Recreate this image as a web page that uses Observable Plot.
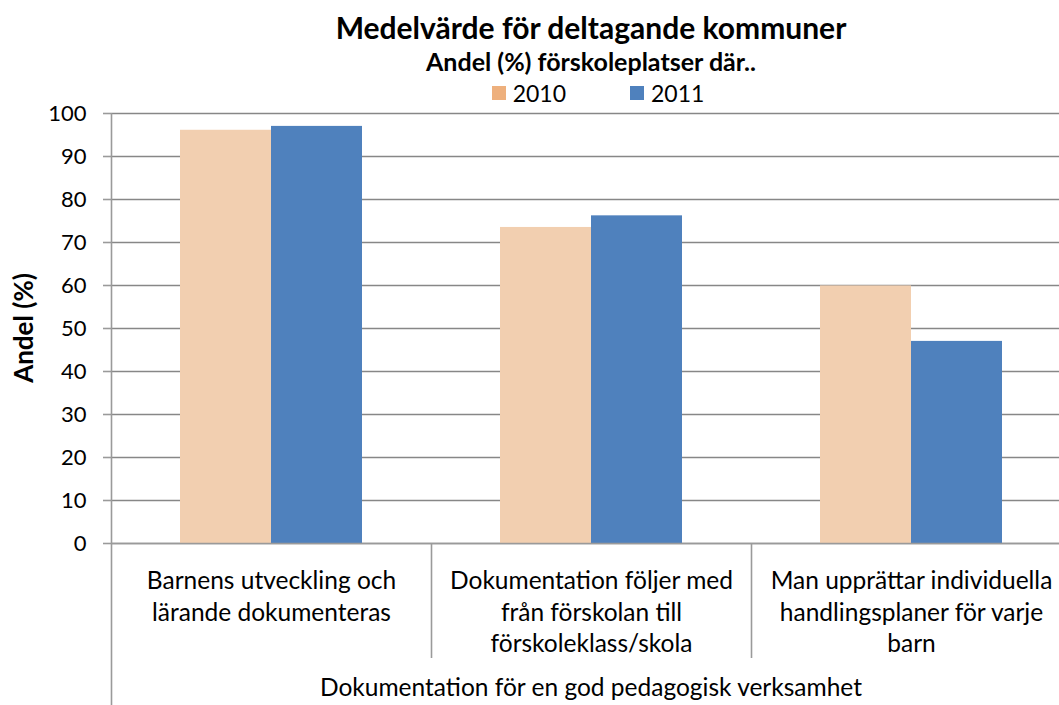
<!DOCTYPE html>
<html>
<head>
<meta charset="utf-8">
<script src="https://cdn.jsdelivr.net/npm/d3@7"></script>
<script src="https://cdn.jsdelivr.net/npm/@observablehq/plot@0.6"></script>
<style>
  html, body { margin: 0; padding: 0; background: #fff; overflow: hidden; }
  #wrap { position: relative; width: 1059px; height: 705px; overflow: hidden; font-family: Lato, "Open Sans", sans-serif; color: #000; }
  #header { position: relative; width: 1059px; height: 105px; }
  .ctr { position: absolute; left: 111px; width: 960px; text-align: center; line-height: 1; white-space: nowrap; }
  #title { top: 12px; font-size: 30px; font-weight: bold; }
  #subtitle { top: 49px; font-size: 25px; font-weight: bold; }
  #legend { top: 80px; font-size: 23px; transform: translateX(7px); }
  .item { display: inline-flex; align-items: center; margin: 0 32px; }
  .sw { display: inline-block; width: 14px; height: 14px; margin-right: 7px; }
  #chart { position: absolute; left: 0; top: 105px; width: 1071px; }
  #chart svg { max-width: none !important; }
</style>
</head>
<body>
<div id="wrap">
  <div id="header">
    <div id="title" class="ctr"></div>
    <div id="subtitle" class="ctr"></div>
    <div id="legend" class="ctr"></div>
  </div>
  <div id="chart"></div>
</div>
<script>
// ---- data ----
const titleText = "Medelvärde för deltagande kommuner";
const subtitleText = "Andel (%) förskoleplatser där..";
const yLabel = "Andel (%)";
const groupLabel = "Dokumentation för en god pedagogisk verksamhet";
const categories = [
  "Barnens utveckling och lärande dokumenteras",
  "Dokumentation följer med från förskolan till förskoleklass/skola",
  "Man upprättar individuella handlingsplaner för varje barn"
];
const categoryLabels = [
  "Barnens utveckling och\nlärande dokumenteras",
  "Dokumentation följer med\nfrån förskolan till\nförskoleklass/skola",
  "Man upprättar individuella\nhandlingsplaner för varje\nbarn"
];
const years = ["2010", "2011"];
const values2010 = [96.1, 73.5, 59.9];
const values2011 = [97.0, 76.2, 47.0];
const yTicks = [0, 10, 20, 30, 40, 50, 60, 70, 80, 90, 100];
const barColors = ["#F2CFB0", "#4F81BD"];
const legendColors = ["#EEB07D", "#4F81BD"];

const data = [];
categories.forEach((c, i) => {
  data.push({category: c, year: years[0], value: values2010[i]});
  data.push({category: c, year: years[1], value: values2011[i]});
});

// ---- header ----
document.getElementById("title").textContent = titleText;
document.getElementById("subtitle").textContent = subtitleText;
const legend = document.getElementById("legend");
years.forEach((y, i) => {
  const it = document.createElement("span");
  it.className = "item";
  const sw = document.createElement("span");
  sw.className = "sw";
  sw.style.background = legendColors[i];
  it.appendChild(sw);
  it.appendChild(document.createTextNode(y));
  legend.appendChild(it);
});

// ---- chart ----
const W = 1071, H = 600, mT = 8, mB = 162, mL = 111;
const chart = Plot.plot({
  width: W, height: H,
  marginTop: mT, marginBottom: mB, marginLeft: mL, marginRight: 0,
  style: {fontFamily: "Lato, 'Open Sans', sans-serif", fontSize: "22px", color: "#000", background: "transparent", overflow: "visible", maxWidth: "none"},
  fx: {domain: categories, padding: 0, axis: null},
  x: {domain: years, paddingInner: 0, paddingOuter: 0.75, axis: null},
  y: {domain: [0, 100], axis: null},
  color: {domain: years, range: barColors},
  marks: [
    Plot.gridY(yTicks, {stroke: "#878787", strokeOpacity: 1, strokeWidth: 1.6}),
    Plot.axisY(yTicks, {tickSize: 8, tickPadding: 17, label: null, stroke: "#9a9a9a", strokeWidth: 1.6, fill: "#000", fontSize: 22}),
    Plot.barY(data, {fx: "category", x: "year", y: "value", fill: "year"}),
    Plot.ruleY([0], {stroke: "#9a9a9a", strokeWidth: 1.6}),
    Plot.text(categories, {fx: d => d, text: (d, i) => categoryLabels[i], frameAnchor: "bottom", lineAnchor: "top", dy: 23, lineHeight: 1.29, fontSize: 24.5, fill: "#000"})
  ]
});
chart.style.maxWidth = "none";
document.getElementById("chart").appendChild(chart);

// decorations using Plot's own scales
const fx = chart.scale("fx");
const ys = chart.scale("y");
const svg = d3.select(chart);
const y0 = ys.apply(0), y100 = ys.apply(100);
categories.forEach((c, i) => {
  const x = Math.round(fx.apply(c)) + 0.5;
  svg.append("line")
    .attr("x1", x).attr("x2", x)
    .attr("y1", i === 0 ? y100 : y0)
    .attr("y2", i === 0 ? H : y0 + 115)
    .attr("stroke", "#9a9a9a").attr("stroke-width", 1.6);
});
const fxr = fx.range;
svg.append("text")
  .attr("x", (fxr[0] + fxr[1]) / 2)
  .attr("y", 591)
  .attr("text-anchor", "middle")
  .attr("font-size", 24.5)
  .attr("fill", "#000")
  .text(groupLabel);
svg.append("text")
  .attr("transform", `translate(33,${(y0 + y100) / 2}) rotate(-90)`)
  .attr("text-anchor", "middle")
  .attr("font-size", 26)
  .attr("font-weight", "bold")
  .attr("fill", "#000")
  .text(yLabel);
</script>
</body>
</html>
